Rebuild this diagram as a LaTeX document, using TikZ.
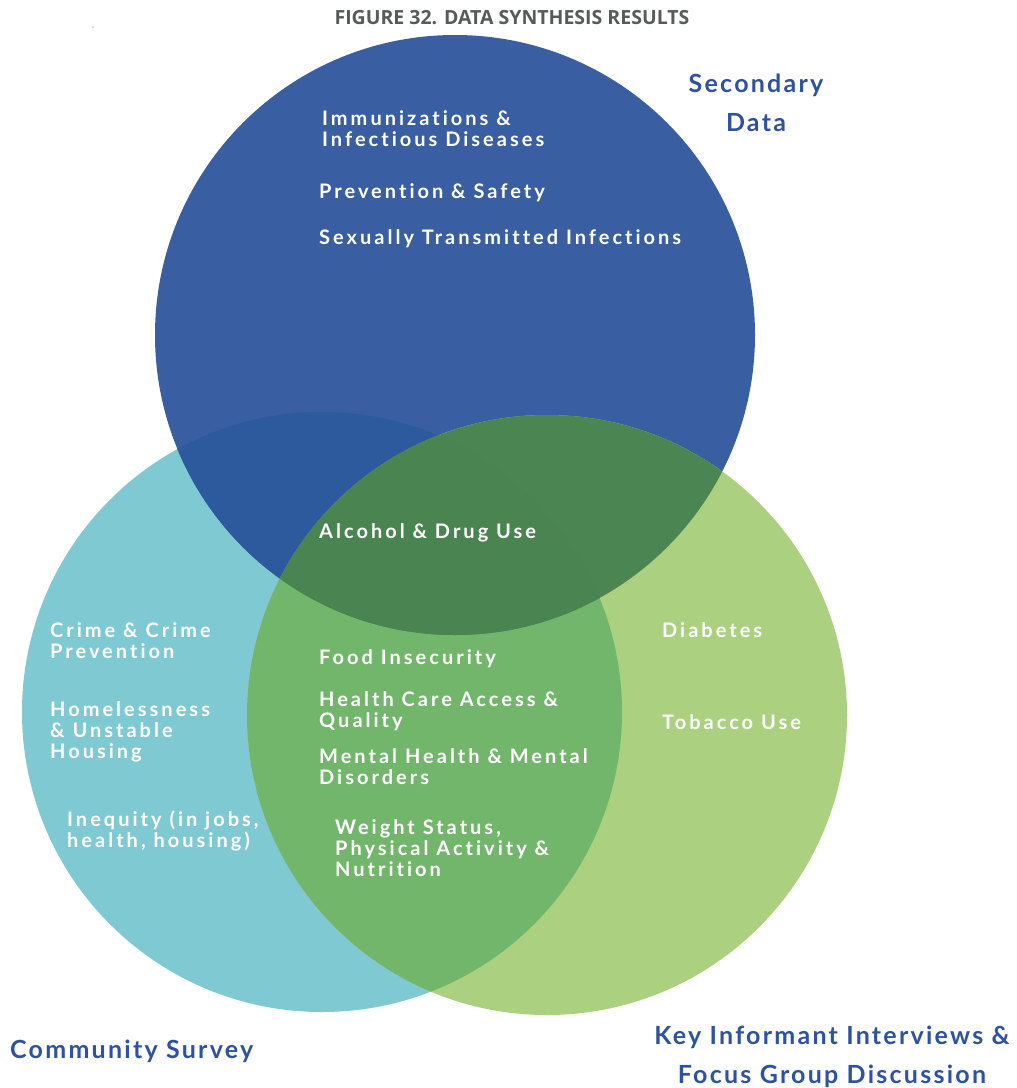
\documentclass[tikz,border=0pt]{standalone}
\usepackage{fontspec}
\setmainfont{Lato}
\newfontfamily\bodyfont[LetterSpace=15,Ligatures={NoCommon}]{Lato}
\newfontfamily\labelfont[LetterSpace=9,Ligatures={NoCommon}]{Lato}
\newfontfamily\titlefont{Open Sans}
\definecolor{tealc}{HTML}{7FC9D3}
\definecolor{bluec}{HTML}{395EA1}
\definecolor{greenc}{HTML}{ABD07F}
\definecolor{btc}{HTML}{2D5A9C}
\definecolor{tgc}{HTML}{72B66B}
\definecolor{bgc}{HTML}{4B8652}
\definecolor{allc}{HTML}{4A8450}
\definecolor{labc}{HTML}{2D53A0}
\definecolor{titlec}{HTML}{58595B}
\tikzset{
  itemtext/.style={text=white, font=\bodyfont\bfseries\fontsize{20}{21}\selectfont, anchor=base west, inner sep=0pt, align=left},
  settext/.style={text=labc, font=\labelfont\bfseries\fontsize{25}{39}\selectfont, anchor=base, inner sep=0pt, align=center},
}
\begin{document}
\begin{tikzpicture}[x=1pt,y=-1pt]
\useasboundingbox[fill=white] (0,0) rectangle (1017,1088);
% circles
\coordinate (cb) at (455,335);
\coordinate (ct) at (322,712);
\coordinate (cg) at (547,715);
\fill[tealc] (ct) circle[radius=300pt];
\fill[bluec] (cb) circle[radius=300pt];
\fill[greenc] (cg) circle[radius=300pt];
\begin{scope}
  \clip (cb) circle[radius=300pt];
  \fill[btc] (ct) circle[radius=300pt];
\end{scope}
\begin{scope}
  \clip (ct) circle[radius=300pt];
  \fill[tgc] (cg) circle[radius=300pt];
\end{scope}
\begin{scope}
  \clip (cb) circle[radius=300pt];
  \fill[bgc] (cg) circle[radius=300pt];
\end{scope}
\begin{scope}
  \clip (cb) circle[radius=300pt];
  \clip (ct) circle[radius=300pt];
  \fill[allc] (cg) circle[radius=300pt];
\end{scope}
\fill[black!60] (93,27) circle[radius=0.7pt];
% title
\node[text=titlec, font=\titlefont\bfseries\fontsize{19.5}{20}\selectfont, anchor=base, inner sep=0pt] (title) at (512,24) {FIGURE 32. DATA SYNTHESIS RESULTS};
% set labels (anchor = baseline of last line)
\node[settext] (secondary) at (756,131) {Secondary\\Data};
\node[settext, anchor=base west] (survey) at (10,1058) {Community Survey};
\node[settext] (kii) at (832,1083) {Key Informant Interviews \&\\Focus Group Discussion};
% secondary data items
\node[itemtext] (imm) at (322,146) {Immunizations \&\\Infectious Diseases};
\node[itemtext] (prev) at (319,198) {Prevention \& Safety};
\node[itemtext] (sti) at (319,244) {Sexually Transmitted Infections};
% center
\node[itemtext] (alc) at (319,538) {Alcohol \& Drug Use};
% survey items
\node[itemtext] (crime) at (50,658) {Crime \& Crime\\Prevention};
\node[itemtext] (home) at (50,758) {Homelessness\\\& Unstable\\Housing};
\node[itemtext] (ineq) at (67,847) {Inequity (in jobs,\\health, housing)};
% overlap survey & interviews
\node[itemtext] (food) at (319,664) {Food Insecurity};
\node[itemtext] (hca) at (319,727) {Health Care Access \&\\Quality};
\node[itemtext] (mh) at (319,784) {Mental Health \& Mental\\Disorders};
\node[itemtext] (wt) at (335,876) {Weight Status,\\Physical Activity \&\\Nutrition};
% interviews items
\node[itemtext] (diab) at (662,637) {Diabetes};
\node[itemtext] (tob) at (662,729) {Tobacco Use};
\end{tikzpicture}
\end{document}
